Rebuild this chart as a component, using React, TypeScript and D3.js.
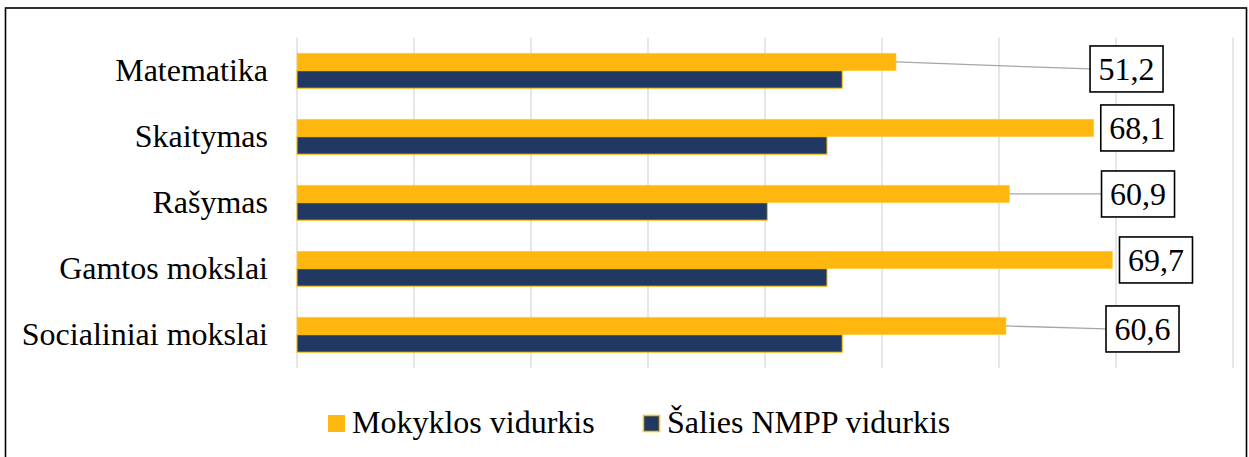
import React from "react";
import * as d3 from "d3";

const categories = ["Matematika", "Skaitymas", "Rašymas", "Gamtos mokslai", "Socialiniai mokslai"];
const schoolAvg = [51.2, 68.1, 60.9, 69.7, 60.6];
const nationalAvg = [46.6, 45.3, 40.2, 45.3, 46.6];
const seriesNames = ["Mokyklos vidurkis", "Šalies NMPP vidurkis"];
const xTicks = [0, 10, 20, 30, 40, 50, 60, 70, 80];

// manual data label placement (offset from bar end / bar centre), as in the original
const labelDx = [194, 7, 92, 7, 100];
const labelDy = [7, 0, 0, 0, 3];

const W = 1249;
const H = 457;
const FONT = "Liberation Serif, Tinos, Times New Roman, serif";
const FS = 32;
const ORANGE = "#FFB70F";
const NAVY = "#213862";
const GOLD = "#FFC000";

export default function App() {
  const x = d3.scaleLinear().domain([0, 80]).range([297, 1233]);
  const y = d3.scaleBand<string>().domain(categories).range([37.7, 367.7]).paddingInner(0.47).paddingOuter(0.235);
  const sub = d3.scaleBand<string>().domain(["s", "n"]).range([0, y.bandwidth()]);
  const fmt = (v: number) => d3.format(".1f")(v).replace(".", ",");
  const boxW = 73;
  const boxH = 46;

  return (
    <svg width={W} height={H} style={{ position: "absolute", left: 0, top: 0, background: "#fff", fontFamily: FONT }}>
      <rect x={5.5} y={8} width={1241} height={470} fill="#fff" stroke="#000" strokeWidth={1.6} />
      {xTicks.map((t) => (
        <line key={t} x1={x(t)} x2={x(t)} y1={37.7} y2={367.7} stroke="#d9d9d9" strokeWidth={1.3} />
      ))}
      {categories.map((c, i) => {
        const y0 = y(c)!;
        return (
          <g key={c}>
            <rect x={x(0)} y={y0 + sub("s")!} width={x(schoolAvg[i]) - x(0)} height={sub.bandwidth()} fill={ORANGE} stroke="#FFD24D" strokeWidth={0.6} />
            <rect x={x(0)} y={y0 + sub("n")!} width={x(nationalAvg[i]) - x(0)} height={sub.bandwidth()} fill={NAVY} stroke={GOLD} strokeWidth={1} />
            <text x={268} y={y0 + y.bandwidth() / 2 + 10} textAnchor="end" style={{ fontFamily: FONT }} fontSize={FS} fill="#000">
              {c}
            </text>
          </g>
        );
      })}
      {categories.map((c, i) => {
        const bx = x(schoolAvg[i]);
        const by = y(c)! + sub("s")! + sub.bandwidth() / 2;
        const lx = bx + labelDx[i];
        const ly = by + labelDy[i];
        return (
          <g key={"l" + c}>
            {labelDx[i] > 20 && <line x1={bx} y1={by} x2={lx} y2={ly} stroke="#a6a6a6" strokeWidth={1.3} />}
            <rect x={lx} y={ly - boxH / 2} width={boxW} height={boxH} fill="#fff" stroke="#000" strokeWidth={1.6} />
            <text x={lx + boxW / 2} y={ly + 11} textAnchor="middle" style={{ fontFamily: FONT }} fontSize={FS} fill="#000">
              {fmt(schoolAvg[i])}
            </text>
          </g>
        );
      })}
      <g>
        <rect x={328} y={415} width={17} height={17} fill={ORANGE} />
        <text x={352} y={433} style={{ fontFamily: FONT }} fontSize={FS} fill="#000">{seriesNames[0]}</text>
        <rect x={643.5} y={415.5} width={16} height={16} fill={NAVY} stroke={GOLD} strokeWidth={1.5} />
        <text x={667} y={433} style={{ fontFamily: FONT }} fontSize={FS} fill="#000">{seriesNames[1]}</text>
      </g>
    </svg>
  );
}
